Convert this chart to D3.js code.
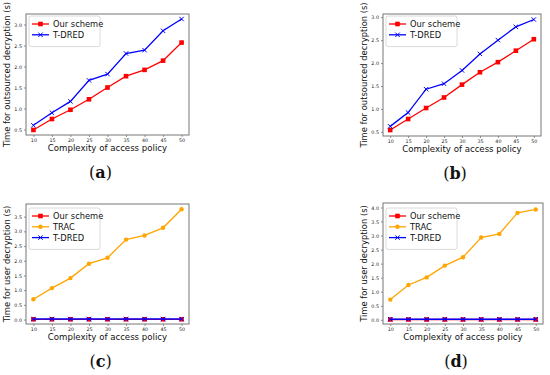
<!DOCTYPE html>
<html>
<head>
<meta charset="utf-8">
<script src="https://cdn.jsdelivr.net/npm/d3@7.9.0/dist/d3.min.js"></script>
<style>
  body { margin: 0; background: #fff; }
  svg { display: block; }
</style>
</head>
<body>
<svg id="chart"></svg>
<script>
// values
const policy = [10, 15, 20, 25, 30, 35, 40, 45, 50];

const oursA = [0.49, 0.75, 0.97, 1.22, 1.5, 1.77, 1.92, 2.14, 2.57];
const tdredA = [0.6, 0.9, 1.17, 1.67, 1.82, 2.31, 2.39, 2.85, 3.13];

const oursB = [0.54, 0.78, 1.02, 1.25, 1.53, 1.8, 2.02, 2.27, 2.52];
const tdredB = [0.62, 0.92, 1.43, 1.55, 1.84, 2.2, 2.5, 2.79, 2.95];

const oursC = [0.01, 0.01, 0.01, 0.01, 0.01, 0.01, 0.01, 0.01, 0.01];
const tracC = [0.69, 1.07, 1.41, 1.9, 2.1, 2.72, 2.86, 3.12, 3.75];
const tdredC = [0.02, 0.02, 0.02, 0.02, 0.02, 0.02, 0.02, 0.02, 0.02];

const oursD = [0.01, 0.01, 0.01, 0.01, 0.01, 0.01, 0.01, 0.01, 0.01];
const tracD = [0.72, 1.24, 1.51, 1.93, 2.23, 2.93, 3.06, 3.81, 3.93];
const tdredD = [0.02, 0.02, 0.02, 0.02, 0.02, 0.02, 0.02, 0.02, 0.02];

const yTicksAB = [0.5, 1.0, 1.5, 2.0, 2.5, 3.0];
const yTicksC = [0.0, 0.5, 1.0, 1.5, 2.0, 2.5, 3.0, 3.5];
const yTicksD = [0.0, 0.5, 1.0, 1.5, 2.0, 2.5, 3.0, 3.5, 4.0];

const xLabel = 'Complexity of access policy';
const yLabelOut = 'Time for outsourced decryption (s)';
const yLabelUser = 'Time for user decryption (s)';

const width = 550;
const height = 375;
const svg = d3.select('#chart').attr('width', width).attr('height', height);

const font = 'DejaVu Sans, sans-serif';

function drawPanel(p) {
  const x = d3.scaleLinear().domain([8, 52]).range([p.left, p.right]);
  const y = d3.scaleLinear().domain(p.yDomain).range([p.bottom, p.top]);
  const g = svg.append('g');

  // axes
  const xAxis = d3.axisBottom(x).tickValues(policy).tickSize(2).tickPadding(2).tickFormat(d3.format('d'));
  const yAxis = d3.axisLeft(y).tickValues(p.yTicks).tickSize(2).tickPadding(2).tickFormat(d3.format('.1f'));
  g.append('g').attr('transform', `translate(0,${p.bottom})`).call(xAxis);
  g.append('g').attr('transform', `translate(${p.left},0)`).call(yAxis);
  g.selectAll('.domain').remove();
  g.selectAll('.tick line').attr('stroke', '#444').attr('stroke-width', 0.6);
  g.selectAll('.tick text').attr('font-family', font).attr('font-size', 4.8).attr('fill', '#222');

  // frame
  g.append('rect')
    .attr('x', p.left).attr('y', p.top)
    .attr('width', p.right - p.left).attr('height', p.bottom - p.top)
    .attr('fill', 'none').attr('stroke', '#777').attr('stroke-width', 1);

  const line = d3.line().x((d, i) => x(policy[i])).y((d) => y(d));

  p.series.forEach((s) => {
    g.append('path').datum(s.values)
      .attr('fill', 'none').attr('stroke', s.color).attr('stroke-width', 1.3)
      .attr('d', line);
    drawMarkers(g, s, policy.map((v) => x(v)), s.values.map((v) => y(v)));
  });

  // legend
  const lx = p.left + 3;
  const ly = p.top + p.legendTop;
  const lh = 9 + p.series.length * 10.8;
  g.append('rect')
    .attr('x', lx).attr('y', ly).attr('width', 71).attr('height', lh)
    .attr('rx', 2).attr('fill', '#fff').attr('fill-opacity', 0.85)
    .attr('stroke', '#d0d0d0').attr('stroke-width', 0.8);
  p.series.forEach((s, i) => {
    const cy = ly + 8 + i * 10.8;
    g.append('line')
      .attr('x1', lx + 3).attr('x2', lx + 20).attr('y1', cy).attr('y2', cy)
      .attr('stroke', s.color).attr('stroke-width', 1.3);
    drawMarkers(g, s, [lx + 11.5], [cy]);
    g.append('text')
      .attr('x', lx + 24).attr('y', cy + 3)
      .attr('font-family', font).attr('font-size', 8.3).attr('fill', '#111')
      .text(s.name);
  });

  // axis titles
  g.append('text')
    .attr('x', (p.left + p.right) / 2).attr('y', p.bottom + 16)
    .attr('text-anchor', 'middle')
    .attr('font-family', font).attr('font-size', 8.6).attr('fill', '#111')
    .text(xLabel);
  g.append('text')
    .attr('transform', `translate(${p.left - 16},${(p.top + p.bottom) / 2}) rotate(-90)`)
    .attr('text-anchor', 'middle')
    .attr('font-family', font).attr('font-size', 8.4).attr('fill', '#111')
    .text(p.yLabel);

  // caption like (a)
  const cap = g.append('text')
    .attr('x', (p.left + p.right) / 2 - 7).attr('y', p.bottom + 43)
    .attr('text-anchor', 'middle')
    .attr('font-family', 'DejaVu Serif, serif').attr('font-size', 16).attr('fill', '#111');
  cap.append('tspan').text('(');
  cap.append('tspan').attr('font-weight', 'bold').text(p.tag);
  cap.append('tspan').text(')');
}

function drawMarkers(g, s, xs, ys) {
  xs.forEach((cx, i) => {
    const cy = ys[i];
    if (s.marker === 'square') {
      g.append('rect').attr('x', cx - 2.3).attr('y', cy - 2.3).attr('width', 4.6).attr('height', 4.6)
        .attr('fill', s.color);
    } else if (s.marker === 'circle') {
      g.append('circle').attr('cx', cx).attr('cy', cy).attr('r', 2.2).attr('fill', s.color);
    } else {
      g.append('path')
        .attr('d', `M${cx - 2.2},${cy - 2.2}L${cx + 2.2},${cy + 2.2}M${cx - 2.2},${cy + 2.2}L${cx + 2.2},${cy - 2.2}`)
        .attr('stroke', s.color).attr('stroke-width', 1);
    }
  });
}

drawPanel({
  tag: 'a', left: 26, right: 189, top: 14, bottom: 135,
  yDomain: [0.37, 3.25], yTicks: yTicksAB, yLabel: yLabelOut, legendTop: 2,
  series: [
    { name: 'Our scheme', values: oursA, color: 'red', marker: 'square' },
    { name: 'T-DRED', values: tdredA, color: 'blue', marker: 'x' },
  ],
});

drawPanel({
  tag: 'b', left: 383, right: 541, top: 14, bottom: 136,
  yDomain: [0.41, 3.07], yTicks: yTicksAB, yLabel: yLabelOut, legendTop: 2,
  series: [
    { name: 'Our scheme', values: oursB, color: 'red', marker: 'square' },
    { name: 'T-DRED', values: tdredB, color: 'blue', marker: 'x' },
  ],
});

drawPanel({
  tag: 'c', left: 26, right: 189, top: 204, bottom: 324,
  yDomain: [-0.15, 3.93], yTicks: yTicksC, yLabel: yLabelUser, legendTop: 4,
  series: [
    { name: 'Our scheme', values: oursC, color: 'red', marker: 'square' },
    { name: 'TRAC', values: tracC, color: 'orange', marker: 'circle' },
    { name: 'T-DRED', values: tdredC, color: 'blue', marker: 'x' },
  ],
});

drawPanel({
  tag: 'd', left: 383, right: 543, top: 203, bottom: 324,
  yDomain: [-0.15, 4.16], yTicks: yTicksD, yLabel: yLabelUser, legendTop: 5,
  series: [
    { name: 'Our scheme', values: oursD, color: 'red', marker: 'square' },
    { name: 'TRAC', values: tracD, color: 'orange', marker: 'circle' },
    { name: 'T-DRED', values: tdredD, color: 'blue', marker: 'x' },
  ],
});
</script>
</body>
</html>
